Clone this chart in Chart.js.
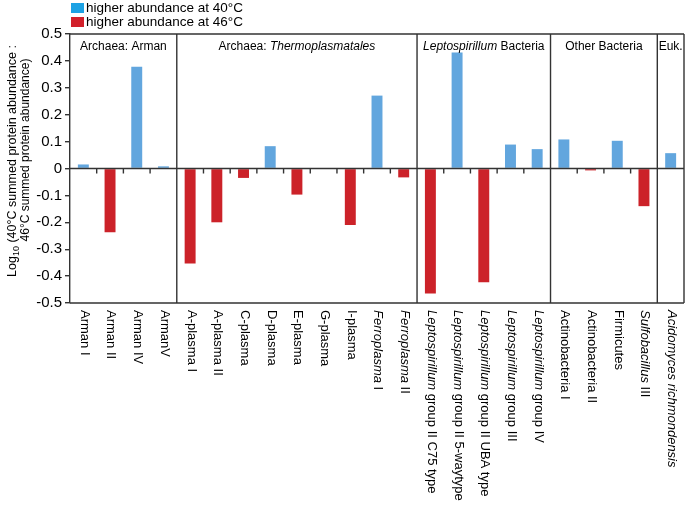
<!DOCTYPE html>
<html>
<head>
<meta charset="utf-8">
<script src="https://cdn.jsdelivr.net/npm/chart.js@4"></script>
<style>
  body { margin: 0; background: #fff; }
  #wrap { position: relative; width: 685px; height: 507px; }
</style>
</head>
<body>
<div id="wrap"><canvas id="abundance"></canvas></div>
<script>
// text between *...* is set in italics
var taxa = ["Arman I", "Arman II", "Arman IV", "ArmanV",
  "A-plasma I", "A-plasma II", "C-plasma", "D-plasma", "E-plasma", "G-plasma", "I-plasma",
  "*Ferroplasma* I", "*Ferroplasma* II",
  "*Leptospirillum* group II C75 type", "*Leptospirillum* group II 5-waytype",
  "*Leptospirillum* group II UBA type", "*Leptospirillum* group III", "*Leptospirillum* group IV",
  "Actinobacteria I", "Actinobacteria II", "Firmicutes", "*Sulfobacillus* III",
  "*Acidomyces richmondensis*"];
var logRatio = [0.015, -0.237, 0.378, 0.008,
  -0.353, -0.200, -0.035, 0.083, -0.097, 0, -0.210, 0.271, -0.033,
  -0.465, 0.431, -0.423, 0.089, 0.072,
  0.108, -0.007, 0.103, -0.140,
  0.057];
var groupNames = ["Archaea: Arman", "Archaea: *Thermoplasmatales*", "*Leptospirillum* Bacteria", "Other Bacteria", "Euk."];
var groupSizes = [4, 9, 5, 4, 1];
var seriesNames = ["higher abundance at 40°C", "higher abundance at 46°C"];
var barColors = ["#62a6de", "#cc2229"];
var legendColors = ["#1da2e4", "#d2202a"];

var FONT = '"Liberation Sans", Arial, sans-serif';
Chart.defaults.font.family = FONT;
Chart.defaults.color = "#000";

var warmer = logRatio.map(function (v) { return v > 0 ? v : null; });
var hotter = logRatio.map(function (v) { return v < 0 ? v : null; });

function richText(ctx, str, x, y, size, align) {
  var parts = str.split("*");
  var total = 0;
  parts.forEach(function (p, i) {
    ctx.font = (i % 2 ? "italic " : "") + size + "px " + FONT;
    total += ctx.measureText(p).width;
  });
  var cx = align === "center" ? x - total / 2 : x;
  ctx.textAlign = "left";
  parts.forEach(function (p, i) {
    ctx.font = (i % 2 ? "italic " : "") + size + "px " + FONT;
    ctx.fillText(p, cx, y);
    cx += ctx.measureText(p).width;
  });
}

var framePlugin = {
  id: "frame",
  afterDatasetsDraw: function (chart) {
    var ctx = chart.ctx, xs = chart.scales.x, ys = chart.scales.y, a = chart.chartArea;
    var bound = function (i) {
      if (i <= 0) return a.left;
      if (i >= taxa.length) return a.right;
      return (xs.getPixelForValue(i - 1) + xs.getPixelForValue(i)) / 2;
    };
    ctx.save();
    ctx.strokeStyle = "#333";
    ctx.lineWidth = 1.4;
    ctx.beginPath();
    ctx.moveTo(a.left, a.top); ctx.lineTo(a.right, a.top);
    ctx.moveTo(a.left, a.bottom); ctx.lineTo(a.right, a.bottom);
    ctx.moveTo(a.right, a.top); ctx.lineTo(a.right, a.bottom);
    var zero = ys.getPixelForValue(0);
    ctx.moveTo(a.left, zero); ctx.lineTo(a.right, zero);
    for (var i = 1; i < taxa.length; i++) {
      ctx.moveTo(bound(i), zero); ctx.lineTo(bound(i), zero + 5);
    }
    var start = 0;
    groupSizes.forEach(function (n) {
      start += n;
      if (start < taxa.length) {
        ctx.moveTo(bound(start), a.top); ctx.lineTo(bound(start), a.bottom);
      }
    });
    ctx.stroke();

    // group headers
    ctx.fillStyle = "#000";
    ctx.textBaseline = "middle";
    start = 0;
    groupSizes.forEach(function (n, g) {
      var mid = (bound(start) + bound(start + n)) / 2;
      richText(ctx, groupNames[g], mid, a.top + 13, 12, "center");
      start += n;
    });

    // category labels, read top to bottom
    taxa.forEach(function (t, i) {
      ctx.save();
      ctx.translate(xs.getPixelForValue(i) + 1, a.bottom + 7);
      ctx.rotate(Math.PI / 2);
      ctx.textBaseline = "middle";
      richText(ctx, t, 0, 0, 13, "left");
      ctx.restore();
    });

    // y title with subscript
    ctx.save();
    ctx.translate(13, 161);
    ctx.rotate(-Math.PI / 2);
    ctx.textBaseline = "middle";
    var s1 = "Log", s2 = "10", s3 = " (40°C summed protein abundance :";
    ctx.font = "12.5px " + FONT;
    var w1 = ctx.measureText(s1).width, w3 = ctx.measureText(s3).width;
    ctx.font = "9px " + FONT;
    var w2 = ctx.measureText(s2).width;
    var x0 = -(w1 + w2 + w3) / 2;
    ctx.textAlign = "left";
    ctx.font = "12.5px " + FONT;
    ctx.fillText(s1, x0, 0);
    ctx.font = "9px " + FONT;
    ctx.fillText(s2, x0 + w1, 4);
    ctx.font = "12.5px " + FONT;
    ctx.fillText(s3, x0 + w1 + w2, 0);
    ctx.restore();
    ctx.save();
    ctx.translate(26, 150);
    ctx.rotate(-Math.PI / 2);
    ctx.textBaseline = "middle";
    ctx.textAlign = "center";
    ctx.font = "12px " + FONT;
    ctx.fillText("46°C summed protein abundance)", 0, 0);
    ctx.restore();

    // legend
    seriesNames.forEach(function (name, k) {
      var y = 3 + k * 14;
      ctx.fillStyle = legendColors[k];
      ctx.fillRect(71, y, 13, 10);
      ctx.fillStyle = "#000";
      ctx.textBaseline = "middle";
      ctx.textAlign = "left";
      ctx.font = "13.5px " + FONT;
      ctx.fillText(name, 86, y + 5);
    });
    ctx.restore();
  }
};

new Chart("abundance", {
  type: "bar",
  data: {
    labels: taxa,
    datasets: [
      { label: seriesNames[0], data: warmer, backgroundColor: barColors[0] },
      { label: seriesNames[1], data: hotter, backgroundColor: barColors[1] }
    ]
  },
  options: {
    responsive: true,
    maintainAspectRatio: false,
    animation: false,
    categoryPercentage: 1,
    barPercentage: 0.41,
    layout: { padding: { top: 34, right: 1, left: 0, bottom: 0 } },
    plugins: { legend: { display: false }, tooltip: { enabled: false } },
    scales: {
      x: {
        stacked: true,
        grid: { display: false },
        border: { display: false },
        ticks: { display: false },
        afterFit: function (s) { s.height = 204; }
      },
      y: {
        stacked: true,
        min: -0.5,
        max: 0.5,
        afterFit: function (s) { s.width = 70; },
        border: { color: "#333", width: 1.4 },
        grid: { drawOnChartArea: false, drawTicks: true, tickLength: 5, color: "#333", lineWidth: 1.4 },
        ticks: {
          stepSize: 0.1,
          padding: 3,
          font: { size: 15 },
          callback: function (v) { return Math.abs(v) < 1e-9 ? "0" : v.toFixed(1); }
        }
      }
    }
  },
  plugins: [framePlugin]
});
</script>
</body>
</html>
